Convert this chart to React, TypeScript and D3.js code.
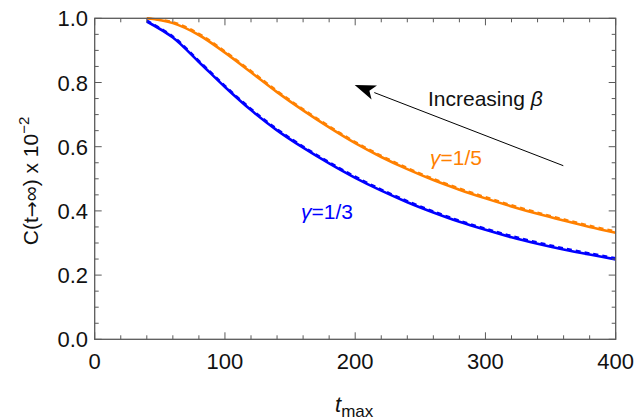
import React from "react";
import * as d3 from "d3";

const tValues = [40, 60, 80, 100, 120, 140, 160, 180, 200, 220, 240, 260, 280, 300, 320, 340, 360, 380, 400];
const orangeSolid = [1.0, 0.985, 0.948, 0.893, 0.832, 0.77, 0.713, 0.66, 0.611, 0.568, 0.53, 0.496, 0.466, 0.439, 0.414, 0.391, 0.37, 0.35, 0.332];
const orangeDashed = [1.0, 0.988, 0.952, 0.897, 0.836, 0.774, 0.717, 0.664, 0.615, 0.572, 0.534, 0.5, 0.47, 0.443, 0.418, 0.395, 0.374, 0.354, 0.336];
const blueSolid = [0.99, 0.94, 0.864, 0.786, 0.714, 0.651, 0.597, 0.548, 0.503, 0.463, 0.427, 0.395, 0.366, 0.341, 0.318, 0.298, 0.28, 0.264, 0.249];
const blueDashed = [0.993, 0.944, 0.868, 0.79, 0.718, 0.655, 0.601, 0.552, 0.507, 0.467, 0.431, 0.399, 0.37, 0.345, 0.322, 0.302, 0.284, 0.268, 0.253];
const xTicks = [0, 100, 200, 300, 400];
const yTicks = [0, 0.2, 0.4, 0.6, 0.8, 1.0];

const ORANGE = "#ff8000";
const BLUE = "#0000ff";
const FRAME = "#5a5a5a";
const FONT = "'Liberation Sans', Arial, sans-serif";

export default function App() {
  const W = 634, H = 420;
  const x = d3.scaleLinear().domain([0, 400]).range([94.7, 615.7]);
  const y = d3.scaleLinear().domain([0, 1]).range([339.3, 18.3]);
  const line = d3
    .line<number>()
    .x((_, i) => x(tValues[i]))
    .y((d) => y(d))
    .curve(d3.curveCatmullRom.alpha(0.5));

  const x0 = x(0), x1 = x(400), y0 = y(0), y1 = y(1);
  const xMinor = d3.range(0, 401, 20);
  const yMinor = d3.range(0, 1.0001, 0.05);

  // arrow
  const ax1 = 563.3, ay1 = 165.7, ax2 = 354.7, ay2 = 85;
  const ang = Math.atan2(ay2 - ay1, ax2 - ax1);
  const hl = 21, hw = 7.5;
  const bx = ax2 - hl * Math.cos(ang), by = ay2 - hl * Math.sin(ang);
  const nx = -Math.sin(ang), ny = Math.cos(ang);
  const head = `M${ax2},${ay2} L${bx + nx * hw},${by + ny * hw} L${bx + 0.25 * hl * Math.cos(ang)},${by + 0.25 * hl * Math.sin(ang)} L${bx - nx * hw},${by - ny * hw} Z`;

  return (
    <svg width={W} height={H} style={{ display: "block", position: "absolute", left: 0, top: 0 }} fontFamily={FONT}>
      <rect width={W} height={H} fill="white" />
      {/* curves */}
      <path d={line(orangeSolid) || ""} fill="none" stroke={ORANGE} strokeWidth={2.6} />
      <path d={line(orangeDashed) || ""} fill="none" stroke={ORANGE} strokeWidth={2.2} strokeDasharray="5,4" />
      <path d={line(blueSolid) || ""} fill="none" stroke={BLUE} strokeWidth={2.6} />
      <path d={line(blueDashed) || ""} fill="none" stroke={BLUE} strokeWidth={2.2} strokeDasharray="5,4" />

      {/* frame */}
      <rect x={x0} y={y1} width={x1 - x0} height={y0 - y1} fill="none" stroke={FRAME} strokeWidth={1.3} />
      {xMinor.map((t) => {
        const major = t % 100 === 0;
        const L = major ? 7 : 4;
        return (
          <g key={"xt" + t}>
            <line x1={x(t)} x2={x(t)} y1={y0} y2={y0 - L} stroke={FRAME} strokeWidth={1} />
            <line x1={x(t)} x2={x(t)} y1={y1} y2={y1 + L} stroke={FRAME} strokeWidth={1} />
          </g>
        );
      })}
      {yMinor.map((v, i) => {
        const major = i % 4 === 0;
        const L = major ? 7 : 4;
        return (
          <g key={"yt" + i}>
            <line x1={x0} x2={x0 + L} y1={y(v)} y2={y(v)} stroke={FRAME} strokeWidth={1} />
            <line x1={x1} x2={x1 - L} y1={y(v)} y2={y(v)} stroke={FRAME} strokeWidth={1} />
          </g>
        );
      })}

      {/* tick labels */}
      {xTicks.map((t) => (
        <text key={"xl" + t} x={x(t)} y={369} textAnchor="middle" fontSize={22} fill="#111">
          {t}
        </text>
      ))}
      {yTicks.map((v) => (
        <text key={"yl" + v} x={88} y={y(v) + 8} textAnchor="end" fontSize={22} fill="#111">
          {v.toFixed(1)}
        </text>
      ))}

      {/* axis labels */}
      <text x={335} y={412} fontSize={22} fill="#111">
        <tspan fontStyle="italic">t</tspan>
        <tspan fontSize={17} dy={5}>max</tspan>
      </text>
      <text transform="translate(38,181) rotate(-90)" textAnchor="middle" fontSize={21} fill="#111">
        C(t<tspan fontFamily="'DejaVu Sans'" fontSize={19}>→</tspan><tspan>∞) x 10</tspan><tspan fontSize={15} dy={-9}>−2</tspan>
      </text>

      {/* annotations */}
      <text x={428} y={106} fontSize={21} fill="#111">
        Increasing <tspan fontStyle="italic">β</tspan>
      </text>
      <text x={430} y={165} fontSize={21} fill={ORANGE}><tspan fontStyle="italic">γ</tspan>=1/5</text>
      <text x={301} y={219} fontSize={21} fill={BLUE}><tspan fontStyle="italic">γ</tspan>=1/3</text>

      <line x1={ax1} y1={ay1} x2={bx} y2={by} stroke="#000" strokeWidth={1} />
      <path d={head} fill="#000" />
    </svg>
  );
}
